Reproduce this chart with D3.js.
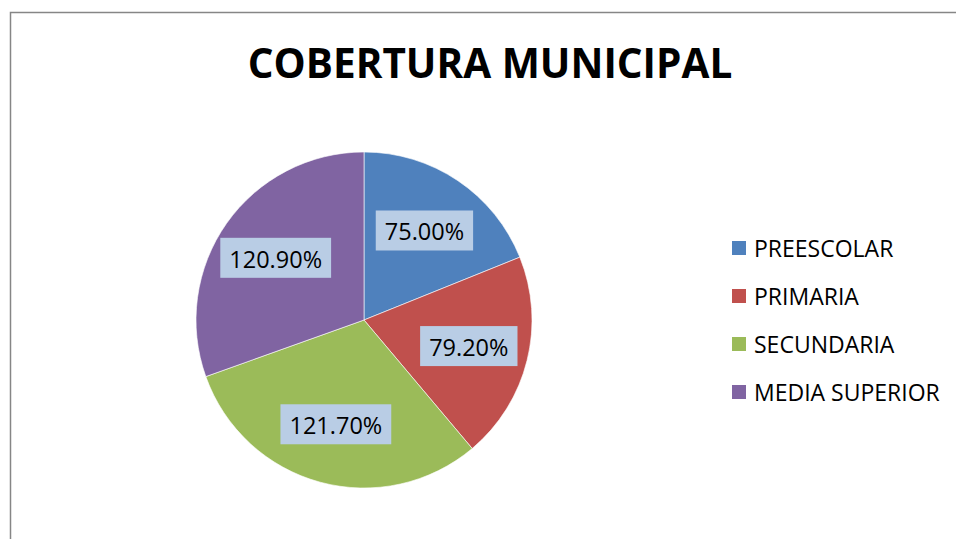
<!DOCTYPE html>
<html>
<head>
<meta charset="utf-8">
<script src="https://cdn.jsdelivr.net/npm/d3@7"></script>
<style>
  body { margin: 0; background: #fff; }
  svg { display: block; font-family: "Open Sans", sans-serif; }
</style>
</head>
<body>
<svg id="chart" width="956" height="539"></svg>
<script>
const categories = ['PREESCOLAR', 'PRIMARIA', 'SECUNDARIA', 'MEDIA SUPERIOR'];
const values = [75.0, 79.2, 121.7, 120.9];
const colors = ['#4F81BD', '#C0504D', '#9BBB59', '#8064A2'];

const svg = d3.select('#chart');
const width = +svg.attr('width');
const height = +svg.attr('height');
const cx = 364;
const cy = 320;
const radius = 168;
const labelRadius = 108;

/* chart frame */
svg.append('rect')
  .attr('x', 10.5)
  .attr('y', 12.5)
  .attr('width', width)
  .attr('height', height)
  .attr('fill', '#fff')
  .attr('stroke', '#868686')
  .attr('stroke-width', 1.5);

/* title */
svg.append('text')
  .attr('x', 490)
  .attr('y', 78)
  .attr('text-anchor', 'middle')
  .attr('font-size', 40.5)
  .attr('font-weight', 'bold')
  .attr('fill', '#000')
  .text('COBERTURA MUNICIPAL');

const data = categories.map((c, i) => ({ name: c, value: values[i], color: colors[i] }));

const pie = d3.pie()
  .sort(null)
  .value(d => d.value);

const arc = d3.arc()
  .innerRadius(0)
  .outerRadius(radius);

const labelArc = d3.arc()
  .innerRadius(labelRadius)
  .outerRadius(labelRadius);

const arcs = pie(data);
const g = svg.append('g').attr('transform', `translate(${cx},${cy})`);

g.selectAll('path.slice')
  .data(arcs)
  .join('path')
  .attr('class', 'slice')
  .attr('d', arc)
  .attr('fill', d => d.data.color)
  .attr('stroke', '#fff')
  .attr('stroke-width', 0.6);

/* data labels */
const labels = g.selectAll('g.label')
  .data(arcs)
  .join('g')
  .attr('class', 'label')
  .attr('transform', d => `translate(${labelArc.centroid(d)})`);

labels.append('rect').attr('fill', '#B9CDE5');

labels.append('text')
  .attr('text-anchor', 'middle')
  .attr('dominant-baseline', 'central')
  .attr('y', 1)
  .attr('font-size', 23.5)
  .attr('fill', '#000')
  .text(d => d.data.value.toFixed(2) + '%');

labels.each(function () {
  const t = d3.select(this).select('text');
  const w = t.node().getComputedTextLength();
  d3.select(this).select('rect')
    .attr('x', -w / 2 - 9)
    .attr('y', -20)
    .attr('width', w + 18)
    .attr('height', 40);
});

/* legend */
const legendY = d3.scalePoint()
  .domain(categories)
  .range([248, 392]);

const legend = svg.selectAll('g.legend')
  .data(data)
  .join('g')
  .attr('class', 'legend')
  .attr('transform', d => `translate(732,${legendY(d.name)})`);

legend.append('rect')
  .attr('x', 0)
  .attr('y', -7)
  .attr('width', 14)
  .attr('height', 14)
  .attr('fill', d => d.color);

legend.append('text')
  .attr('x', 22)
  .attr('y', 0)
  .attr('dominant-baseline', 'central')
  .attr('font-size', 23)
  .attr('fill', '#000')
  .text(d => d.name);
</script>
</body>
</html>
